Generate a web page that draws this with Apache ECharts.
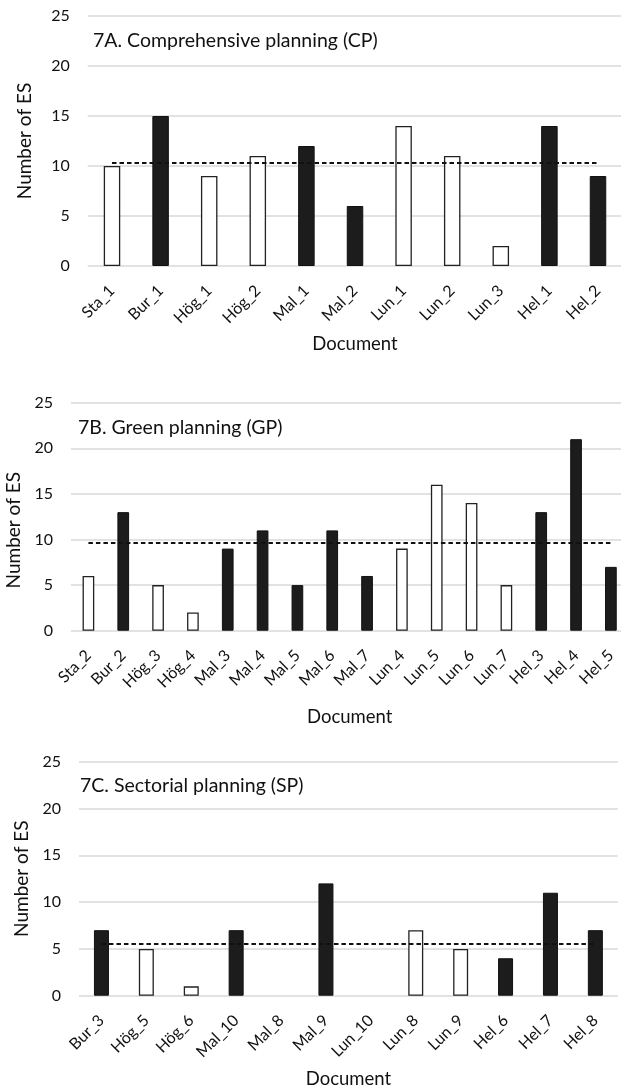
<!DOCTYPE html>
<html>
<head>
<meta charset="utf-8">
<script src="https://cdn.jsdelivr.net/npm/echarts@6/dist/echarts.min.js"></script>
<style>
  html, body { margin: 0; padding: 0; background: #fff; }
  #main { width: 621px; height: 1091px; }
</style>
</head>
<body>
<div id="main"></div>
<script>
// 7A. Comprehensive planning
const catsA = ['Sta_1', 'Bur_1', 'Hög_1', 'Hög_2', 'Mal_1', 'Mal_2', 'Lun_1', 'Lun_2', 'Lun_3', 'Hel_1', 'Hel_2'];
const valsA = [10, 15, 9, 11, 12, 6, 14, 11, 2, 14, 9];
const darkA = [0, 1, 0, 0, 1, 1, 0, 0, 0, 1, 1];
const meanA = 10.3;

// 7B. Green planning
const catsB = ['Sta_2', 'Bur_2', 'Hög_3', 'Hög_4', 'Mal_3', 'Mal_4', 'Mal_5', 'Mal_6', 'Mal_7', 'Lun_4', 'Lun_5', 'Lun_6', 'Lun_7', 'Hel_3', 'Hel_4', 'Hel_5'];
const valsB = [6, 13, 5, 2, 9, 11, 5, 11, 6, 9, 16, 14, 5, 13, 21, 7];
const darkB = [0, 1, 0, 0, 1, 1, 1, 1, 1, 0, 0, 0, 0, 1, 1, 1];
const meanB = 9.6;

// 7C. Sectorial planning
const catsC = ['Bur_3', 'Hög_5', 'Hög_6', 'Mal_10', 'Mal_8', 'Mal_9', 'Lun_10', 'Lun_8', 'Lun_9', 'Hel_6', 'Hel_7', 'Hel_8'];
const valsC = [7, 5, 1, 7, 0, 12, 0, 7, 5, 4, 11, 7];
const darkC = [1, 0, 0, 1, 1, 1, 0, 0, 0, 1, 1, 1];
const meanC = 5.5;

const titles = ['7A. Comprehensive planning (CP)', '7B. Green planning (GP)', '7C. Sectorial planning (SP)'];
const yTicks = [0, 5, 10, 15, 20, 25];

const FONT = 'Lato';
const TXT = '#111';
const GRIDC = '#d9d9d9';

// plot boxes (plots run past the right edge, like the cropped original)
const boxes = [
    { left: 87.7, width: 534.6, top: 16, height: 250, barW: 16.5, titleX: 93, titleY: 30.5, nameGap: 69, yGap: 53.5, yShift: 0 },
    { left: 71, width: 557.3, top: 402.7, height: 228, barW: 11.7, titleX: 78, titleY: 418, nameGap: 77, yGap: 45, yShift: 27 },
    { left: 79, width: 538.8, top: 761.7, height: 234, barW: 15, titleX: 80, titleY: 775.5, nameGap: 74, yGap: 45, yShift: 0 }
];
const panels = [
    { cats: catsA, vals: valsA, dark: darkA, mean: meanA },
    { cats: catsB, vals: valsB, dark: darkB, mean: meanB },
    { cats: catsC, vals: valsC, dark: darkC, mean: meanC }
];

const grid = [], xAxis = [], yAxis = [], series = [], title = [];

panels.forEach((p, i) => {
    const b = boxes[i];
    grid.push({ left: b.left, width: b.width, top: b.top, height: b.height, outerBoundsMode: 'none' });

    xAxis.push({
        type: 'category', gridIndex: i, data: p.cats,
        axisLine: { show: false }, axisTick: { show: false },
        // top padding pushes the rotated text so its upper end sits under the bar
        axisLabel: { rotate: 45, interval: 0, margin: 22, padding: [20, 0, 0, 0], fontFamily: FONT, fontSize: 16, color: TXT },
        name: 'Document', nameLocation: 'middle', nameGap: b.nameGap,
        nameTextStyle: { fontFamily: FONT, fontSize: 18.5, color: TXT }
    });

    yAxis.push({
        type: 'value', gridIndex: i, min: yTicks[0], max: yTicks[yTicks.length - 1], interval: 5,
        axisLine: { show: false }, axisTick: { show: false },
        splitLine: { lineStyle: { color: GRIDC, width: 1.5 } },
        axisLabel: { margin: 18, fontFamily: FONT, fontSize: 16, color: TXT },
        name: 'Number of ES', nameLocation: 'middle', nameGap: b.yGap,
        nameTextStyle: { fontFamily: FONT, fontSize: 19, color: TXT, padding: [0, b.yShift, 0, 0] }
    });

    series.push({
        type: 'bar', xAxisIndex: i, yAxisIndex: i, barWidth: b.barW,
        data: p.vals.map((v, k) => ({
            value: v,
            // an empty document draws nothing, no stray outline on the baseline
            itemStyle: v === 0
                ? { color: 'transparent', borderWidth: 0 }
                : p.dark[k]
                    ? { color: '#1c1c1c', borderColor: '#111', borderWidth: 1 }
                    : { color: '#fff', borderColor: '#222', borderWidth: 1.3 }
        })),
        markLine: {
            silent: true, symbol: 'none', label: { show: false },
            lineStyle: { color: '#111', width: 2, type: [4.5, 3] },
            data: [[{ coord: [p.cats[0], p.mean] }, { coord: [p.cats[p.cats.length - 1], p.mean] }]]
        }
    });

    title.push({
        text: titles[i], left: b.titleX, top: b.titleY, padding: 0,
        textStyle: { fontFamily: FONT, fontSize: 19.5, fontWeight: 'normal', color: TXT }
    });
});

const chart = echarts.init(document.getElementById('main'), null, { renderer: 'canvas' });
chart.setOption({
    animation: false,
    backgroundColor: '#fff',
    title: title,
    grid: grid,
    xAxis: xAxis,
    yAxis: yAxis,
    series: series
});
</script>
</body>
</html>
